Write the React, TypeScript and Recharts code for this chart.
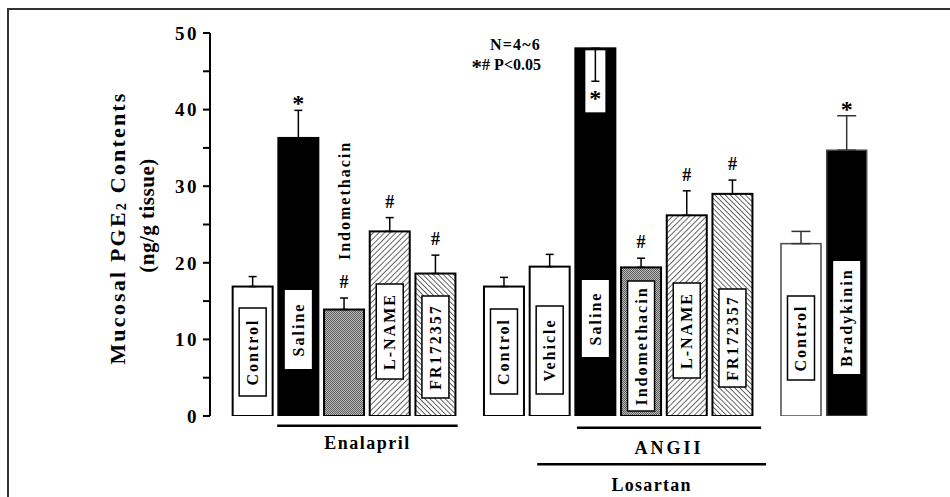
// Mucosal PGE2 content bar chart
import React from "react";
import { BarChart, Bar, XAxis, YAxis, ErrorBar, ReferenceLine } from "recharts";

const FONT = "'Liberation Serif', 'Times New Roman', serif";

// one entry per bar, left to right
const BAR_LABELS = [
  "Control", "Saline", "Indomethacin", "L-NAME", "FR172357",
  "Control", "Vehicle", "Saline", "Indomethacin", "L-NAME", "FR172357",
  "Control", "Bradykinin",
];
const BAR_POS = [0, 1, 2, 3, 4, 5.5, 6.5, 7.5, 8.5, 9.5, 10.5, 12, 13];
const MEANS = [16.9, 36.3, 13.9, 24.1, 18.6, 16.9, 19.5, 48.0, 19.4, 26.2, 29.0, 22.5, 34.7];
const ERR_UP = [1.3, 3.6, 1.5, 1.8, 2.4, 1.2, 1.6, 0, 1.2, 3.2, 1.8, 1.6, 4.5];
const ERR_DOWN = [0, 0, 0, 0, 0, 0, 0, 4.3, 0, 0, 0, 0, 0];
const MARKS = ["", "*", "#", "#", "#", "", "", "*", "#", "#", "#", "", "*"];
const FILLS = ["white", "black", "dots", "hatchR", "hatchL", "white", "white", "black", "dots", "hatchR", "hatchL", "white", "black"];
const WIDE_CAP = [false, false, false, false, false, false, false, false, false, false, false, true, true];

// group underlines (x in bar slots, y in axis units)
const GROUP_NAMES = ["Enalapril", "ANGII", "Losartan"];
const GROUP_FROM = [0.54, 7.1, 6.23];
const GROUP_TO = [4.49, 11.13, 11.24];
const GROUP_LEVEL = [-1.27, -1.53, -6.3];
const GROUP_GAP = [17, 20, 21];
const GROUP_SPACING = [1.5, 3, 1.3];

const Y_TICKS = [0, 5, 10, 15, 20, 25, 30, 35, 40, 45, 50];

// label box inside each bar: [gap above baseline, box height] in px, null = label above bar
const BOX_LAYOUT: ([number, number] | null)[] = [
  [20, 88], [47, 79], null, [37, 95], [18, 102],
  [22, 85], [22, 88], [59, 77], [5, 130], [38, 95], [29, 98],
  [36, 84], [42, 113],
];
const BOX_BORDER = [true, false, false, true, true, true, true, false, true, true, true, true, false];

const FILL_COLORS: Record<string, string> = {
  white: "#fff",
  black: "#000",
  dots: "url(#dots)",
  hatchR: "url(#hatchR)",
  hatchL: "url(#hatchL)",
};

const data = BAR_LABELS.map((label, i) => ({
  i,
  label,
  pos: BAR_POS[i],
  mean: MEANS[i],
  err: WIDE_CAP[i] ? null : [ERR_DOWN[i], ERR_UP[i]],
  errWide: WIDE_CAP[i] ? [ERR_DOWN[i], ERR_UP[i]] : null,
}));

const boldText = {
  fontFamily: FONT,
  fontWeight: "bold" as const,
  fill: "#000",
};

function BarShape(props: any) {
  const { x, y, width, height, payload } = props;
  const i = payload.i;
  const pxPerUnit = height / payload.mean;
  const base = y + height;
  const cx = x + width / 2;
  const errTop = y - ERR_UP[i] * pxPerUnit;
  const third = i >= 11;
  const box = BOX_LAYOUT[i];
  const mark = MARKS[i];
  const markSize = mark === "*" ? 24 : 18;
  const markBase = mark === "*" ? errTop + 1 : errTop - 10;

  let boxEl = null;
  if (box) {
    const top = base - box[0] - box[1];
    const cy = top + box[1] / 2;
    boxEl = (
      <g>
        <rect x={cx - 13.5} y={top} width={27} height={box[1]} fill="#fff"
          stroke={BOX_BORDER[i] ? "#000" : "none"} strokeWidth={1.5} />
        <text x={cx} y={cy} transform={`rotate(-90 ${cx} ${cy})`} textAnchor="middle"
          dominantBaseline="central" fontSize={16} letterSpacing={2} style={boldText}>
          {payload.label}
        </text>
      </g>
    );
  } else {
    const ty = errTop - 38;
    boxEl = (
      <text x={cx} y={ty} transform={`rotate(-90 ${cx} ${ty})`} textAnchor="start"
        dominantBaseline="central" fontSize={16} letterSpacing={2} style={boldText}>
        {payload.label}
      </text>
    );
  }

  return (
    <g>
      <rect x={x} y={y} width={width} height={height} fill={FILL_COLORS[FILLS[i]]}
        stroke={third ? "#4a4a4a" : "#000"} strokeWidth={third ? 1.5 : 2} />
      {boxEl}
      {ERR_DOWN[i] > 0 && (
        <g>
          <rect x={cx - 10} y={y + 2} width={20} height={62} fill="#fff" />
          <text x={cx} y={y + 58} textAnchor="middle" fontSize={24} style={boldText}>{mark}</text>
        </g>
      )}
      {mark && ERR_DOWN[i] === 0 && (
        <text x={cx} y={markBase} textAnchor="middle" fontSize={markSize} style={boldText}>{mark}</text>
      )}
    </g>
  );
}

function YTitle(props: any) {
  const vb = props.viewBox || { x: 10, y: 33, width: 200, height: 383 };
  const x1 = vb.x + 107;
  const y1 = vb.y + vb.height / 2 + 3.5;
  const x2 = vb.x + 137;
  const y2 = vb.y + vb.height / 2 - 9;
  return (
    <g>
      <text x={x1} y={y1} transform={`rotate(-90 ${x1} ${y1})`} textAnchor="middle"
        dominantBaseline="central" fontSize={22} letterSpacing={2.2} style={boldText}>
        Mucosal PGE<tspan fontSize={14} dy={4}>2</tspan><tspan dy={-4}> Contents</tspan>
      </text>
      <text x={x2} y={y2} transform={`rotate(-90 ${x2} ${y2})`} textAnchor="middle"
        dominantBaseline="central" fontSize={21} letterSpacing={0.5} style={boldText}>
        (ng/g tissue)
      </text>
    </g>
  );
}

function groupLabel(k: number) {
  return (p: any) => {
    const vb = p.viewBox;
    if (!vb) return null;
    return (
      <text x={vb.x + vb.width / 2} y={vb.y + GROUP_GAP[k]} textAnchor="middle"
        dominantBaseline="central" fontSize={18} letterSpacing={GROUP_SPACING[k]} style={boldText}>
        {GROUP_NAMES[k]}
      </text>
    );
  };
}

const statStyle: React.CSSProperties = {
  position: "absolute",
  right: 409,
  fontFamily: FONT,
  fontWeight: "bold",
  fontSize: 16,
  lineHeight: "16px",
  whiteSpace: "nowrap",
};

export default function App() {
  return (
    <div style={{ position: "fixed", left: 0, top: 0, width: 950, height: 497, overflow: "hidden", background: "#fff" }}>
      <div style={{ position: "absolute", left: 7, top: 8, width: 1000, height: 600, border: "2px solid #333" }} />
      <div style={{ position: "absolute", left: 0, top: 0 }}>
        <BarChart width={950} height={497} data={data} margin={{ top: 33, right: 50, bottom: 81, left: 10 }}>
          <defs>
            <pattern id="dots" patternUnits="userSpaceOnUse" width={2} height={2}>
              <rect width={2} height={2} fill="#b8b8b8" />
              <rect width={1} height={1} fill="#606060" />
              <rect x={1} y={1} width={1} height={1} fill="#606060" />
            </pattern>
            <pattern id="hatchR" patternUnits="userSpaceOnUse" width={4} height={4} patternTransform="rotate(45)">
              <rect width={4} height={4} fill="#fff" />
              <line x1={0} y1={0} x2={0} y2={4} stroke="#000" strokeWidth={1.2} />
            </pattern>
            <pattern id="hatchL" patternUnits="userSpaceOnUse" width={3.6} height={3.6} patternTransform="rotate(-45)">
              <rect width={3.6} height={3.6} fill="#fff" />
              <line x1={0} y1={0} x2={0} y2={3.6} stroke="#000" strokeWidth={1.2} />
            </pattern>
          </defs>
          <XAxis type="number" dataKey="pos" domain={[-0.93, 14.17]} allowDataOverflow hide />
          <YAxis
            domain={[0, 50]}
            ticks={Y_TICKS}
            allowDataOverflow
            width={200}
            tickSize={7}
            tickMargin={4}
            tickFormatter={(v: number) => (v % 10 === 0 ? String(v) : "")}
            axisLine={{ stroke: "#000", strokeWidth: 2 }}
            tickLine={{ stroke: "#000", strokeWidth: 2 }}
            tick={{ fill: "#000", fontSize: 19, fontWeight: "bold", fontFamily: FONT, letterSpacing: 2.5 }}
            label={{ content: (p: any) => <YTitle {...p} /> }}
          />
          <Bar dataKey="mean" barSize={40} shape={<BarShape />} isAnimationActive={false}>
            <ErrorBar dataKey="err" width={4} stroke="#000" strokeWidth={1.5} direction="y" />
            <ErrorBar dataKey="errWide" width={9.5} stroke="#333" strokeWidth={1.5} direction="y" />
          </Bar>
          {GROUP_NAMES.map((name, k) => (
            <ReferenceLine
              key={name}
              segment={[{ x: GROUP_FROM[k], y: GROUP_LEVEL[k] }, { x: GROUP_TO[k], y: GROUP_LEVEL[k] }]}
              stroke="#000"
              strokeWidth={2.5}
              ifOverflow="visible"
              label={{ content: groupLabel(k) }}
            />
          ))}
        </BarChart>
      </div>
      <div style={{ ...statStyle, top: 37, letterSpacing: 1.2 }}>N=4~6</div>
      <div style={{ ...statStyle, top: 57 }}>
        <span style={{ fontSize: 21, verticalAlign: "-4px" }}>*</span># P&lt;0.05
      </div>
    </div>
  );
}
